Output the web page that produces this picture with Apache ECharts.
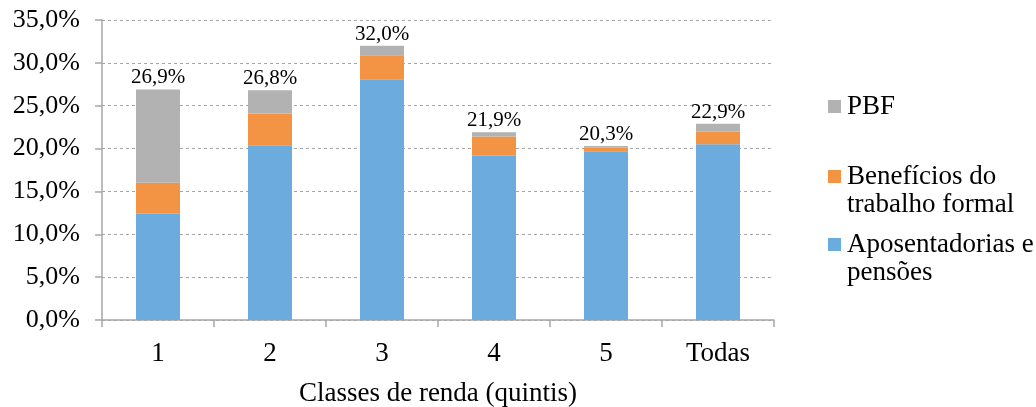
<!DOCTYPE html>
<html>
<head>
<meta charset="utf-8">
<script src="https://cdn.jsdelivr.net/npm/echarts@6/dist/echarts.min.js"></script>
<style>
html,body{margin:0;padding:0;background:#fff;}
#chart{width:1036px;height:407px;}
</style>
</head>
<body>
<div id="chart"></div>
<script>
const categories = ['1', '2', '3', '4', '5', 'Todas'];
const aposentadorias = [12.4, 20.4, 28.1, 19.2, 19.7, 20.5];
const beneficios = [3.6, 3.7, 2.8, 2.2, 0.4, 1.5];
const pbf = [10.9, 2.7, 1.1, 0.5, 0.2, 0.9];
const totals = [26.9, 26.8, 32.0, 21.9, 20.3, 22.9];

const seriesNames = ['Aposentadorias e pensões', 'Benefícios do trabalho formal', 'PBF'];
const legendLabels = {
  'PBF': 'PBF',
  'Benefícios do trabalho formal': 'Benefícios do\ntrabalho formal',
  'Aposentadorias e pensões': 'Aposentadorias e\npensões'
};
const colors = ['#6CABDD', '#F29444', '#B2B2B2'];
const FONT = '"Liberation Serif", "Times New Roman", serif';

const fmtPct = v => v.toFixed(1).replace('.', ',') + '%';

const chart = echarts.init(document.getElementById('chart'));
const twoLineIcon = 'path://M0,0h13v13h-13z M0,40.9h0.1v0.1h-0.1z';
const legendText = {
  fontFamily: FONT, fontSize: 27, color: '#000', lineHeight: 28, padding: [7, 0, 0, 1]
};
chart.setOption({
  animation: false,
  backgroundColor: '#fff',
  color: colors,
  grid: { left: 102, right: 262, top: 20, bottom: 87, containLabel: false, outerBoundsMode: 'none' },
  legend: [
    {
      data: ['PBF'], orient: 'vertical', left: 828, top: 89, padding: 0,
      itemWidth: 13, itemHeight: 13, icon: 'rect',
      formatter: n => legendLabels[n], textStyle: legendText
    },
    {
      data: ['Benefícios do trabalho formal'], orient: 'vertical', left: 828, top: 159, padding: 0,
      itemWidth: 13, itemHeight: 41, icon: twoLineIcon,
      formatter: n => legendLabels[n], textStyle: legendText
    },
    {
      data: ['Aposentadorias e pensões'], orient: 'vertical', left: 828, top: 227, padding: 0,
      itemWidth: 13, itemHeight: 41, icon: twoLineIcon,
      formatter: n => legendLabels[n], textStyle: legendText
    }
  ],
  xAxis: {
    type: 'category',
    data: categories,
    boundaryGap: true,
    name: 'Classes de renda (quintis)',
    nameLocation: 'middle',
    nameGap: 60,
    nameTextStyle: { fontFamily: FONT, fontSize: 27, color: '#000' },
    axisLine: { lineStyle: { color: '#A6A6A6', width: 1.5 } },
    axisTick: { show: true, alignWithLabel: false, length: 7, lineStyle: { color: '#A6A6A6', width: 1.5 } },
    axisLabel: { fontFamily: FONT, fontSize: 27, color: '#000', margin: 20 }
  },
  yAxis: {
    type: 'value',
    min: 0, max: 35, interval: 5,
    axisLine: { show: true, lineStyle: { color: '#A6A6A6', width: 1.5 } },
    axisTick: { show: true, length: 7, lineStyle: { color: '#A6A6A6', width: 1.5 } },
    axisLabel: {
      fontFamily: FONT, fontSize: 26, color: '#000', margin: 22,
      formatter: v => fmtPct(v)
    },
    splitLine: { show: true, lineStyle: { color: '#A6A6A6', type: [3, 3], width: 1 } }
  },
  series: [
    {
      name: seriesNames[0], type: 'bar', stack: 'total', data: aposentadorias,
      barWidth: 44, itemStyle: { color: colors[0] }
    },
    {
      name: seriesNames[1], type: 'bar', stack: 'total', data: beneficios,
      barWidth: 44, itemStyle: { color: colors[1] }
    },
    {
      name: seriesNames[2], type: 'bar', stack: 'total', data: pbf,
      barWidth: 44, itemStyle: { color: colors[2] },
      label: {
        show: true, position: 'top', distance: 1,
        fontFamily: FONT, fontSize: 21, color: '#000',
        formatter: p => fmtPct(totals[p.dataIndex])
      }
    }
  ]
});
</script>
</body>
</html>
